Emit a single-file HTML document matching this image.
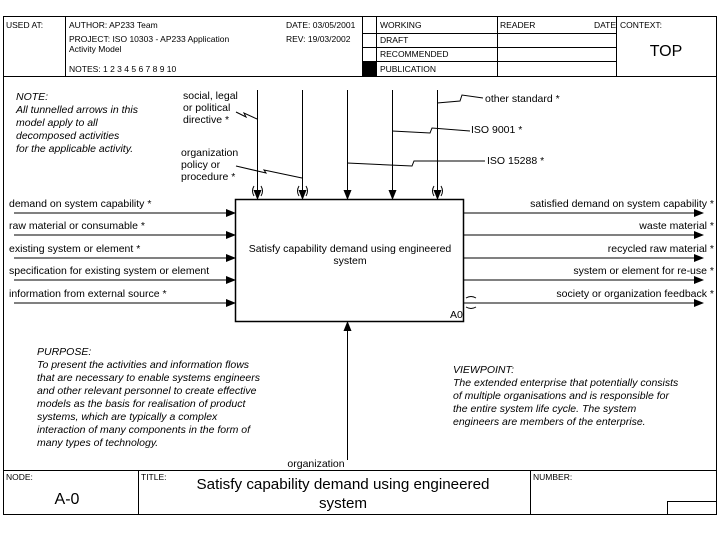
<!DOCTYPE html>
<html><head><meta charset="utf-8"><style>
html,body{margin:0;padding:0;background:#fff;}
svg{display:block;font-family:"Liberation Sans",sans-serif;}
</style></head><body>
<svg width="720" height="540" viewBox="0 0 720 540" xmlns="http://www.w3.org/2000/svg">
<defs><marker id="a" markerWidth="10" markerHeight="8" refX="9" refY="4" orient="auto" markerUnits="userSpaceOnUse"><path d="M0,0 L10,4 L0,8 z" fill="#000"/></marker></defs>
<g fill="none" stroke="#000" stroke-width="1">
<rect x="3.5" y="16.5" width="713" height="498"/>
<line x1="3" y1="76.5" x2="717" y2="76.5"/>
<line x1="3" y1="470.5" x2="717" y2="470.5"/>
<line x1="65.5" y1="16" x2="65.5" y2="76"/>
<line x1="362.5" y1="16" x2="362.5" y2="76"/>
<line x1="376.5" y1="16" x2="376.5" y2="76"/>
<line x1="497.5" y1="16" x2="497.5" y2="76"/>
<line x1="616.5" y1="16" x2="616.5" y2="76"/>
<line x1="362" y1="33.5" x2="616" y2="33.5"/>
<line x1="362" y1="47.5" x2="616" y2="47.5"/>
<line x1="362" y1="61.5" x2="616" y2="61.5"/>
<line x1="138.5" y1="470" x2="138.5" y2="514"/>
<line x1="530.5" y1="470" x2="530.5" y2="514"/>
<rect x="667.5" y="501.5" width="49" height="13"/>
<rect x="235.5" y="199.5" width="228" height="122" stroke-width="1.5"/>
</g>
<rect x="363" y="62" width="13" height="14" fill="#000"/>
<g font-size="8.5" fill="#000">
<text x="6" y="28">USED AT:</text>
<text x="69" y="28">AUTHOR:  AP233 Team</text>
<text x="69" y="42">PROJECT:  ISO 10303 - AP233 Application</text>
<text x="69" y="52">Activity Model</text>
<text x="69" y="72">NOTES:  1  2  3  4  5  6  7  8  9  10</text>
<text x="286" y="28">DATE:  03/05/2001</text>
<text x="286" y="42">REV:     19/03/2002</text>
<text x="380" y="28">WORKING</text>
<text x="380" y="43">DRAFT</text>
<text x="380" y="57">RECOMMENDED</text>
<text x="380" y="72">PUBLICATION</text>
<text x="500" y="28">READER</text>
<text x="594" y="28">DATE</text>
<text x="620" y="28">CONTEXT:</text>
<text x="6" y="480">NODE:</text>
<text x="141" y="480">TITLE:</text>
<text x="533" y="480">NUMBER:</text>
</g>
<text x="666" y="56" font-size="16" text-anchor="middle">TOP</text>
<text x="67" y="504" font-size="16" text-anchor="middle">A-0</text>
<text x="343" y="489" font-size="15.2" text-anchor="middle">Satisfy capability demand using engineered</text>
<text x="343" y="508" font-size="15.2" text-anchor="middle">system</text>
<g font-size="10.5" font-style="italic">
<text x="16" y="100">NOTE:</text>
<text x="16" y="113">All tunnelled arrows in this</text>
<text x="16" y="126">model apply to all</text>
<text x="16" y="139">decomposed activities</text>
<text x="16" y="152">for the applicable activity.</text>
<text x="37" y="355">PURPOSE:</text>
<text x="37" y="368">To present the activities and information flows</text>
<text x="37" y="381">that are necessary to enable systems engineers</text>
<text x="37" y="394">and other relevant personnel to create effective</text>
<text x="37" y="407">models as the basis for realisation of product</text>
<text x="37" y="420">systems, which are typically a complex</text>
<text x="37" y="433">interaction of many components in the form of</text>
<text x="37" y="446">many types of technology.</text>
<text x="453" y="373">VIEWPOINT:</text>
<text x="453" y="386">The extended enterprise that potentially consists</text>
<text x="453" y="399">of multiple organisations and is responsible for</text>
<text x="453" y="412">the entire system life cycle.  The system</text>
<text x="453" y="425">engineers are members of the enterprise.</text>
</g>
<g font-size="10.5">
<text x="350" y="252" text-anchor="middle">Satisfy capability demand using engineered</text>
<text x="350" y="264" text-anchor="middle">system</text>
<text x="450" y="318">A0</text>
<text x="9" y="207">demand on system capability *</text>
<text x="9" y="229">raw material or consumable *</text>
<text x="9" y="252">existing system or element *</text>
<text x="9" y="274">specification for existing system or element</text>
<text x="9" y="297">information from external source *</text>
<text x="714" y="207" text-anchor="end">satisfied demand on system capability *</text>
<text x="714" y="229" text-anchor="end">waste material *</text>
<text x="714" y="252" text-anchor="end">recycled raw material *</text>
<text x="714" y="274" text-anchor="end">system or element for re-use *</text>
<text x="714" y="297" text-anchor="end">society or organization feedback *</text>
<text x="183" y="99">social, legal</text>
<text x="183" y="111">or political</text>
<text x="183" y="123">directive *</text>
<text x="181" y="156">organization</text>
<text x="181" y="168">policy or</text>
<text x="181" y="180">procedure *</text>
<text x="485" y="102">other standard *</text>
<text x="471" y="133">ISO 9001 *</text>
<text x="487" y="164">ISO 15288 *</text>
<text x="316" y="467" text-anchor="middle">organization</text>
</g>
<g stroke="#000" stroke-width="1" fill="none">
<line x1="14" y1="213" x2="235" y2="213" marker-end="url(#a)"/>
<line x1="14" y1="235" x2="235" y2="235" marker-end="url(#a)"/>
<line x1="14" y1="258" x2="235" y2="258" marker-end="url(#a)"/>
<line x1="14" y1="280" x2="235" y2="280" marker-end="url(#a)"/>
<line x1="14" y1="303" x2="235" y2="303" marker-end="url(#a)"/>
<line x1="464" y1="213" x2="703" y2="213" marker-end="url(#a)"/>
<line x1="464" y1="235" x2="703" y2="235" marker-end="url(#a)"/>
<line x1="464" y1="258" x2="703" y2="258" marker-end="url(#a)"/>
<line x1="464" y1="280" x2="703" y2="280" marker-end="url(#a)"/>
<line x1="464" y1="303" x2="703" y2="303" marker-end="url(#a)"/>
<line x1="257.5" y1="90" x2="257.5" y2="199" marker-end="url(#a)"/>
<line x1="302.5" y1="90" x2="302.5" y2="199" marker-end="url(#a)"/>
<line x1="347.5" y1="90" x2="347.5" y2="199" marker-end="url(#a)"/>
<line x1="392.5" y1="90" x2="392.5" y2="199" marker-end="url(#a)"/>
<line x1="437.5" y1="90" x2="437.5" y2="199" marker-end="url(#a)"/>
<line x1="347.5" y1="460" x2="347.5" y2="322" marker-end="url(#a)"/>
<polyline points="236,112 246,117 244,113 257,119"/>
<polyline points="236,166 266,173 264,170 302,178"/>
<polyline points="347,163 412,166 414,161 485,161"/>
<polyline points="392,131 430,133 432,128 470,131"/>
<polyline points="437,103 460,101 462,95 483,98"/>
<path d="M254,186 q-3,5 0,10 M261,186 q3,5 0,10"/>
<path d="M299,186 q-3,5 0,10 M306,186 q3,5 0,10"/>
<path d="M434,186 q-3,5 0,10 M441,186 q3,5 0,10"/>
<path d="M466,298 q5,-3 10,0 M466,307 q5,3 10,0"/>
</g>
</svg>
</body></html>
